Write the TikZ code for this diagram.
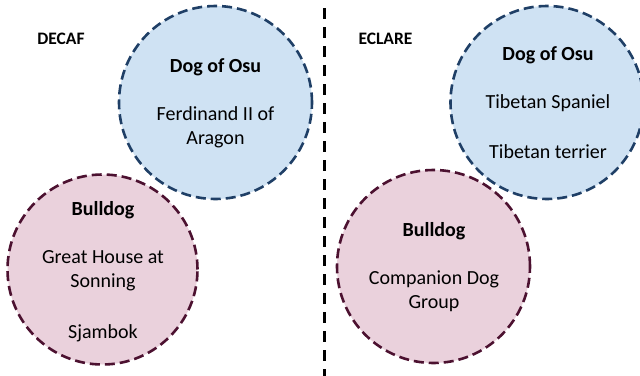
\documentclass[tikz,border=0pt]{standalone}
\usepackage{fontspec}
\setmainfont{Carlito}
\definecolor{bluefill}{HTML}{CFE2F3}
\definecolor{blueline}{HTML}{1F3F66}
\definecolor{pinkfill}{HTML}{EAD1DC}
\definecolor{pinkline}{HTML}{4C1130}
\begin{document}
\begin{tikzpicture}[x=1pt,y=-1pt,
  bluecirc/.style={circle,draw=blueline,fill=bluefill,line width=2.6pt,dash pattern=on 10pt off 5pt,inner sep=0pt},
  pinkcirc/.style={circle,draw=pinkline,fill=pinkfill,line width=2.6pt,dash pattern=on 10pt off 5pt,inner sep=0pt},
  txt/.style={font=\fontsize{20}{24}\selectfont,align=center,inner sep=0pt},
  head/.style={font=\fontsize{20}{24}\selectfont\bfseries,inner sep=0pt},
  lbl/.style={font=\fontsize{17.5}{21}\selectfont\bfseries,inner sep=0pt}]
\useasboundingbox (0,0) rectangle (640,375);
\fill[white] (0,0) rectangle (640,375);
% divider
\coordinate (d1) at (324.5,8);
\coordinate (d2) at (324.5,378);
\draw[black,line width=2.2pt,dash pattern=on 11pt off 8pt] (d1) -- (d2);
% labels
\node[lbl] (decaf) at (61,39) {DECAF};
\node[lbl] (eclare) at (385.5,39) {ECLARE};
% left side
\node[bluecirc,minimum size=193pt] (lb) at (215.5,102.5) {};
\node[pinkcirc,minimum size=190pt] (lp) at (102.5,269.5) {};
\node[head] (lbh) at (215.5,67) {Dog of Osu};
\node[txt] (lbt) at (215.5,127.5) {Ferdinand II of\\Aragon};
\node[head] (lph) at (103,210) {Bulldog};
\node[txt] (lpt) at (103,270.5) {Great House at\\Sonning};
\node[txt] (lpt2) at (103,333) {Sjambok};
% right side
\node[bluecirc,minimum size=193pt] (rb) at (547,102.5) {};
\node[pinkcirc,minimum size=193pt] (rp) at (433.5,266.5) {};
\node[head] (rbh) at (548,55) {Dog of Osu};
\node[txt] (rbt) at (548,103) {Tibetan Spaniel};
\node[txt] (rbt2) at (548,152) {Tibetan terrier};
\node[head] (rph) at (434,231) {Bulldog};
\node[txt] (rpt) at (434,291.5) {Companion Dog\\Group};
\end{tikzpicture}
\end{document}
